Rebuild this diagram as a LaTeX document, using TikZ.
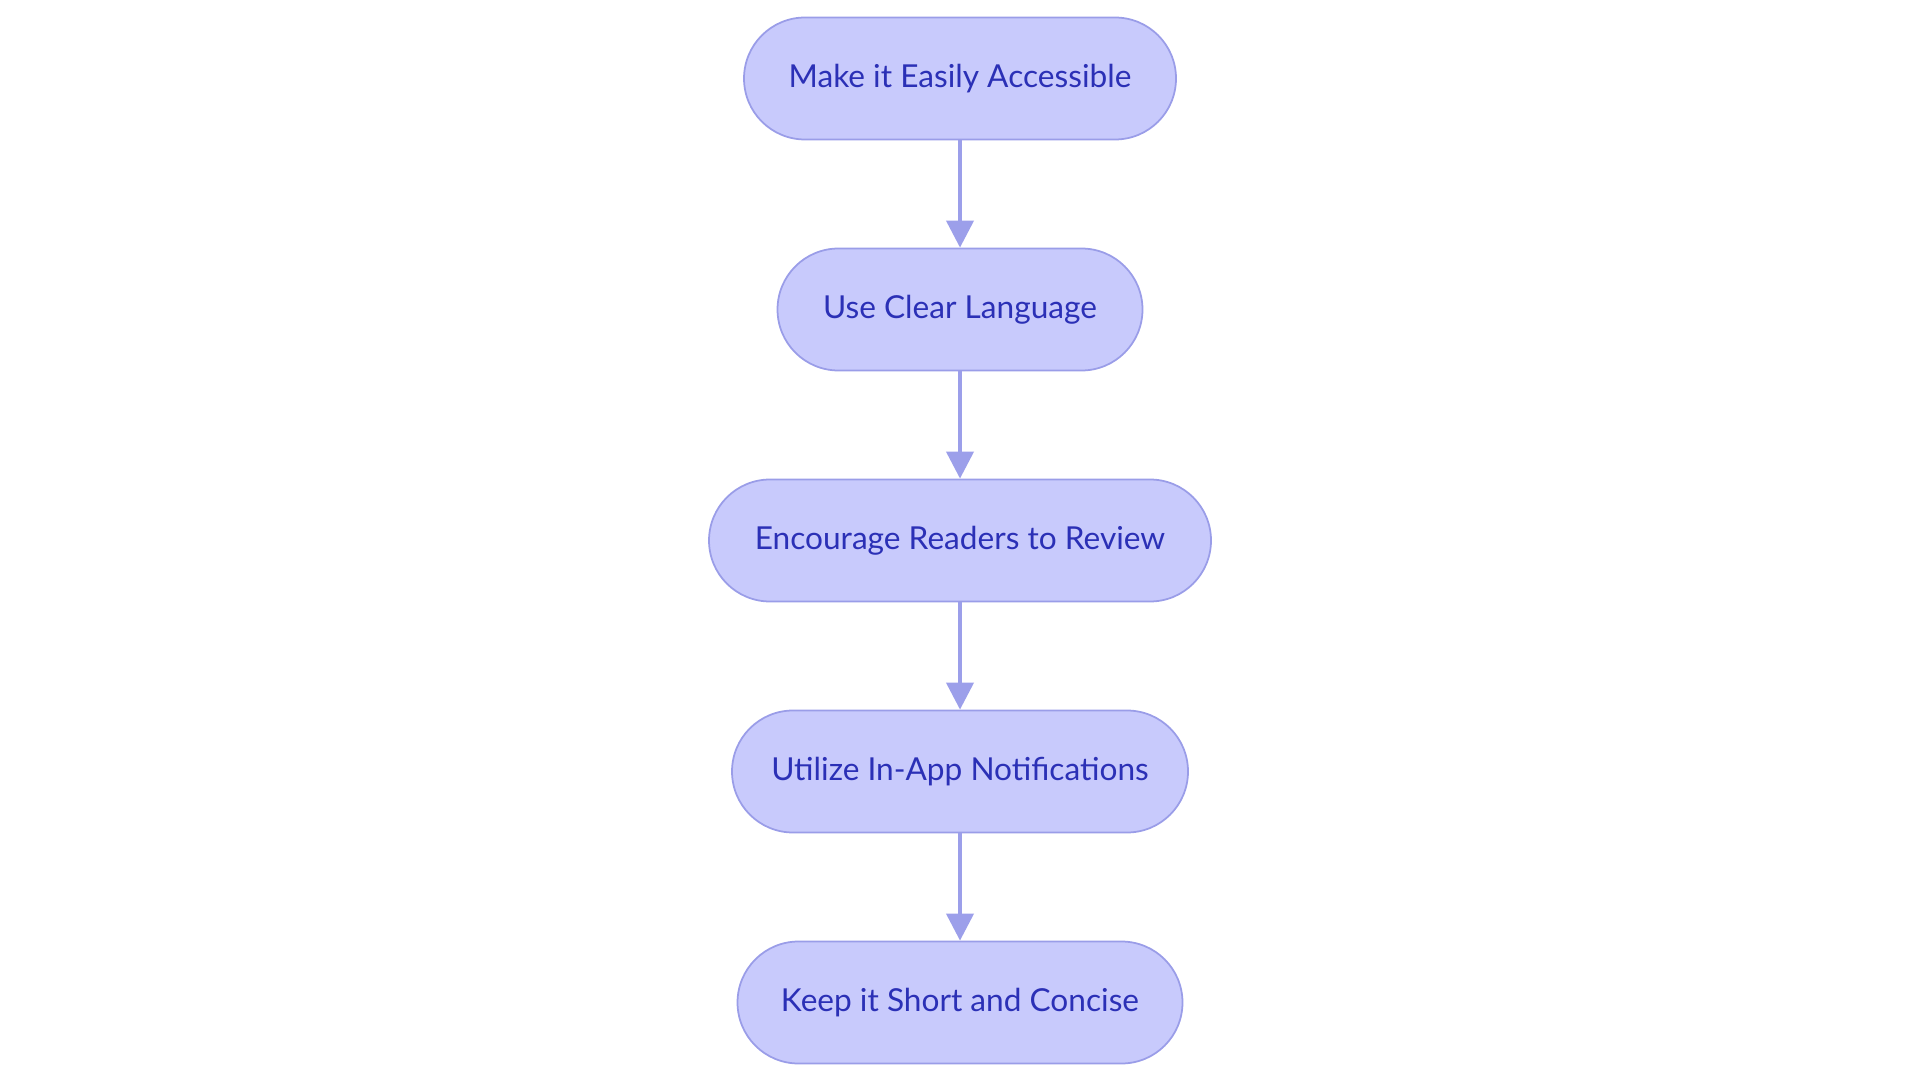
\documentclass[tikz,border=0pt]{standalone}
\usepackage{xcolor}
\usepackage{fontspec}
\setmainfont{Lato}
\usetikzlibrary{arrows.meta,positioning}
\definecolor{pillfill}{HTML}{C8CAFC}
\definecolor{pillline}{HTML}{9A9DE8}
\definecolor{pilltext}{HTML}{2B30B6}
\definecolor{arrowcol}{HTML}{9C9FEA}
\tikzstyle{pill} = [rectangle, rounded corners=0.61cm, minimum height=1.22cm, inner sep=0pt, align=center, draw=pillline, line width=0.5pt, fill=pillfill, text=pilltext, font=\fontsize{9.0}{10.5}\selectfont]
\tikzstyle{arrow} = [draw=arrowcol, line width=1.15pt, -{Triangle[width=0.27cm,length=0.27cm]}]

\begin{document}
\begin{tikzpicture}[node distance=2.31cm]
\useasboundingbox (0,0) rectangle (19.2,-10.83);
\node (access) [pill, minimum width=4.32cm] at (9.6,-0.785) {Make it Easily Accessible};
\node (clear) [pill, minimum width=3.65cm, below of=access] {Use Clear Language};
\node (review) [pill, minimum width=5.02cm, below of=clear] {Encourage Readers to Review};
\node (notify) [pill, minimum width=4.56cm, below of=review] {Utilize In-App Notifications};
\node (short) [pill, minimum width=4.45cm, below of=notify] {Keep it Short and Concise};

\draw[arrow] (access) -- (clear);
\draw[arrow] (clear) -- (review);
\draw[arrow] (review) -- (notify);
\draw[arrow] (notify) -- (short);
\end{tikzpicture}
\end{document}
